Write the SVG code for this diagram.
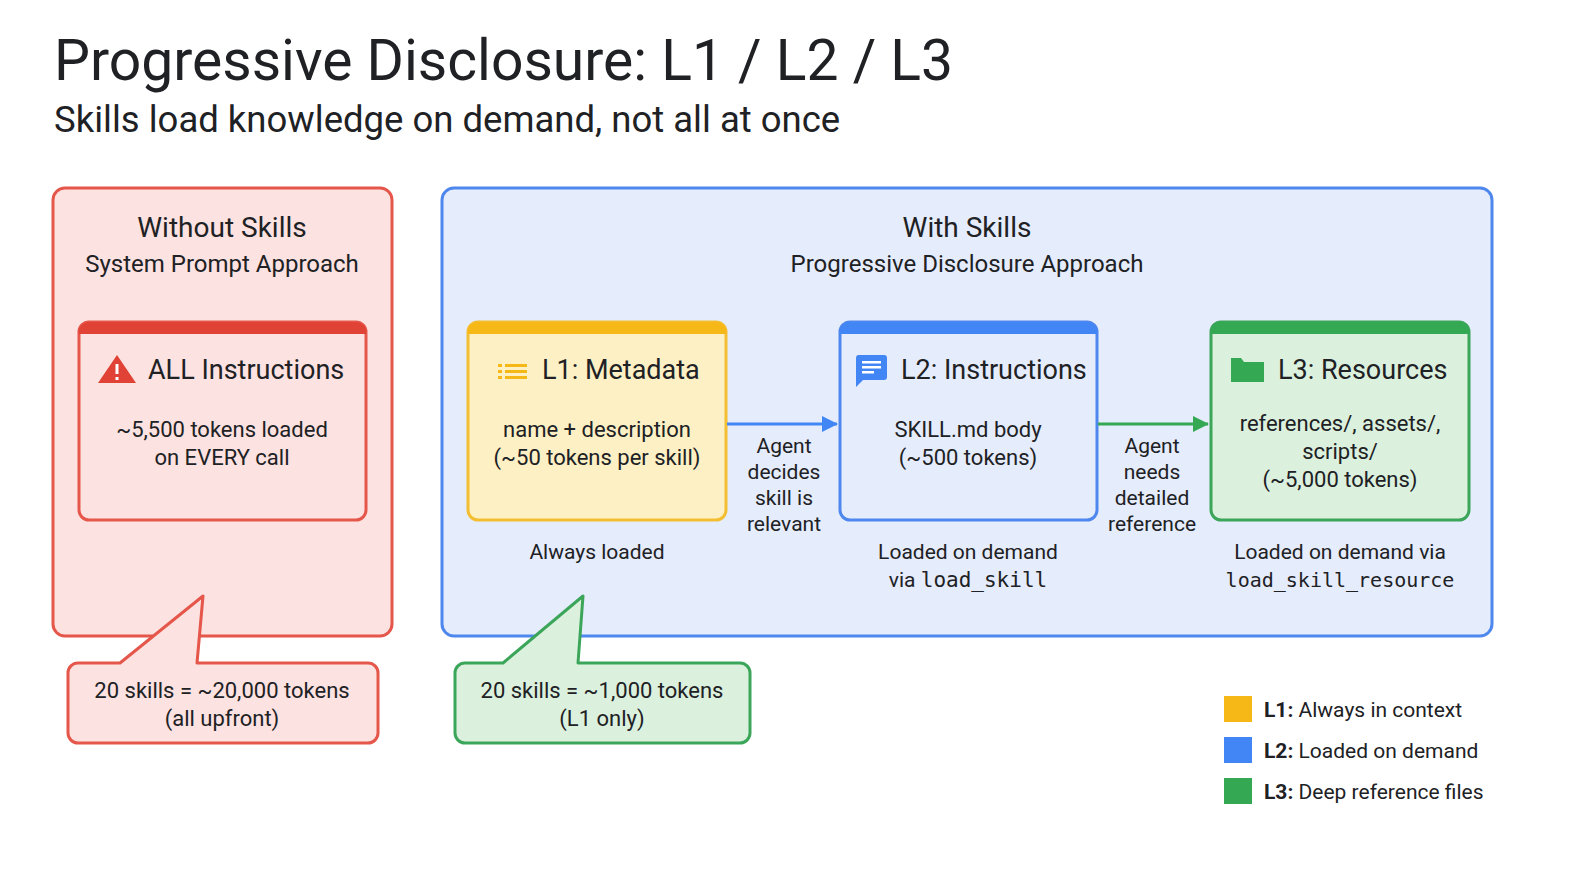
<svg xmlns="http://www.w3.org/2000/svg" width="1584" height="870" viewBox="0 0 1584 870">
<style>
text{font-family:Roboto,"Open Sans","Liberation Sans",sans-serif;fill:#202124}
.c{text-anchor:middle}
.m{font-family:"DejaVu Sans Mono","Liberation Mono",monospace}
.h{font-size:28px}.s{font-size:24px}.b{font-size:22px}.l{font-size:21px}
</style>
<defs>
<marker id="ab" markerWidth="16" markerHeight="16" refX="15" refY="8" orient="auto" markerUnits="userSpaceOnUse" viewBox="0 0 16 16"><path d="M0 0L16 8L0 16z" fill="#4285f4"/></marker>
<marker id="ag" markerWidth="16" markerHeight="16" refX="15" refY="8" orient="auto" markerUnits="userSpaceOnUse" viewBox="0 0 16 16"><path d="M0 0L16 8L0 16z" fill="#34a853"/></marker>
</defs>
<rect width="1584" height="870" fill="#fff"/>
<text x="54" y="80" font-size="57">Progressive Disclosure: L1 / L2 / L3</text>
<text x="54" y="132" font-size="36.5">Skills load knowledge on demand, not all at once</text>

<g id="without">
<rect x="53" y="188" width="339" height="448" rx="12" fill="#fce2e0" stroke="#e5564b" stroke-width="3"/>
<text class="c h" x="222" y="237">Without Skills</text>
<text class="c s" x="222" y="272">System Prompt Approach</text>
</g>
<g id="all">
<rect x="79" y="322" width="287" height="198" rx="10" fill="#fce2e0" stroke="#e5564b" stroke-width="3"/>
<path d="M79 334a10 10 0 0 1 10-12h267a10 10 0 0 1 10 12z" fill="#e04235"/>
<path d="M117 355L136 383H98z" fill="#e04235"/>
<rect x="115.5" y="364" width="3" height="10" fill="#fff"/><rect x="115.5" y="377" width="3" height="3" fill="#fff"/>
<text x="148" y="379" class="h" style="font-size:27px">ALL Instructions</text>
<text class="c b" x="222" y="437">~5,500 tokens loaded</text>
<text class="c b" x="222" y="465">on EVERY call</text>
</g>

<g id="with">
<rect x="442" y="188" width="1050" height="448" rx="12" fill="#e5ecfb" stroke="#4e87ee" stroke-width="3"/>
<text class="c h" x="967" y="237">With Skills</text>
<text class="c s" x="967" y="272">Progressive Disclosure Approach</text>
</g>
<g id="l1">
<rect x="468" y="322" width="258" height="198" rx="10" fill="#fdf0c5" stroke="#f4be32" stroke-width="3"/>
<path d="M468 334a10 10 0 0 1 10-12h238a10 10 0 0 1 10 12z" fill="#f6b816"/>
<g fill="#f6b816"><rect x="498" y="364" width="4" height="3"/><rect x="505" y="364" width="22" height="3"/><rect x="498" y="370" width="4" height="3"/><rect x="505" y="370" width="22" height="3"/><rect x="498" y="376" width="4" height="3"/><rect x="505" y="376" width="22" height="3"/></g>
<text x="542" y="379" class="h" style="font-size:27px">L1: Metadata</text>
<text class="c b" x="597" y="437">name + description</text>
<text class="c b" x="597" y="465">(~50 tokens per skill)</text>
<text class="c l" x="597" y="559">Always loaded</text>
</g>
<g id="l2">
<rect x="840" y="322" width="257" height="198" rx="10" fill="#e5ecfb" stroke="#4e87ee" stroke-width="3"/>
<path d="M840 334a10 10 0 0 1 10-12h237a10 10 0 0 1 10 12z" fill="#4285f4"/>
<path d="M858 355h26a3 3 0 0 1 3 3v19a3 3 0 0 1-3 3h-21l-7 7v-29a3 3 0 0 1 2-3z" fill="#4285f4"/>
<g fill="#fff"><rect x="862" y="361" width="19" height="2.5"/><rect x="862" y="366" width="19" height="2.5"/><rect x="862" y="371" width="12" height="2.5"/></g>
<text x="901" y="379" class="h" style="font-size:27px">L2: Instructions</text>
<text class="c b" x="968" y="437">SKILL.md body</text>
<text class="c b" x="968" y="465">(~500 tokens)</text>
<text class="c l" x="968" y="559">Loaded on demand</text>
<text class="c l" x="968" y="587">via <tspan class="m">load_skill</tspan></text>
</g>
<g id="l3">
<rect x="1211" y="322" width="258" height="198" rx="10" fill="#dcf0de" stroke="#3ba55a" stroke-width="3"/>
<path d="M1211 334a10 10 0 0 1 10-12h238a10 10 0 0 1 10 12z" fill="#34a853"/>
<path d="M1231 358h10l3 4h20v20h-33z" fill="#34a853"/>
<text x="1278" y="379" class="h" style="font-size:27px">L3: Resources</text>
<text class="c b" x="1340" y="431">references/, assets/,</text>
<text class="c b" x="1340" y="459">scripts/</text>
<text class="c b" x="1340" y="487">(~5,000 tokens)</text>
<text class="c l" x="1340" y="559">Loaded on demand via</text>
<text class="c l m" x="1340" y="587" style="font-size:20px">load_skill_resource</text>
</g>

<g id="connectors">
<line x1="727" y1="424" x2="837" y2="424" stroke="#4285f4" stroke-width="3" marker-end="url(#ab)"/>
<line x1="1098" y1="424" x2="1208" y2="424" stroke="#34a853" stroke-width="3" marker-end="url(#ag)"/>
<g class="c l"><text x="784" y="453">Agent</text><text x="784" y="479">decides</text><text x="784" y="505">skill is</text><text x="784" y="531">relevant</text>
<text x="1152" y="453">Agent</text><text x="1152" y="479">needs</text><text x="1152" y="505">detailed</text><text x="1152" y="531">reference</text></g>
</g>

<g id="callout-red">
<path d="M78 663H120L203 596L197 663H368a10 10 0 0 1 10 10v60a10 10 0 0 1-10 10H78a10 10 0 0 1-10-10v-60a10 10 0 0 1 10-10z" fill="#fce2e0" stroke="#e5564b" stroke-width="3" stroke-linejoin="round"/>
<text class="c b" x="222" y="698">20 skills = ~20,000 tokens</text>
<text class="c b" x="222" y="726">(all upfront)</text>
</g>
<g id="callout-green">
<path d="M465 663H503L583 596L578 663H740a10 10 0 0 1 10 10v60a10 10 0 0 1-10 10H465a10 10 0 0 1-10-10v-60a10 10 0 0 1 10-10z" fill="#dcf0de" stroke="#3ba55a" stroke-width="3" stroke-linejoin="round"/>
<text class="c b" x="602" y="698">20 skills = ~1,000 tokens</text>
<text class="c b" x="602" y="726">(L1 only)</text>
</g>

<g id="legend" class="l">
<rect x="1224" y="696" width="28" height="26" fill="#f6b816"/>
<text x="1264" y="717"><tspan font-weight="bold">L1:</tspan> Always in context</text>
<rect x="1224" y="737" width="28" height="26" fill="#4285f4"/>
<text x="1264" y="758"><tspan font-weight="bold">L2:</tspan> Loaded on demand</text>
<rect x="1224" y="778" width="28" height="26" fill="#34a853"/>
<text x="1264" y="799"><tspan font-weight="bold">L3:</tspan> Deep reference files</text>
</g>
</svg>
